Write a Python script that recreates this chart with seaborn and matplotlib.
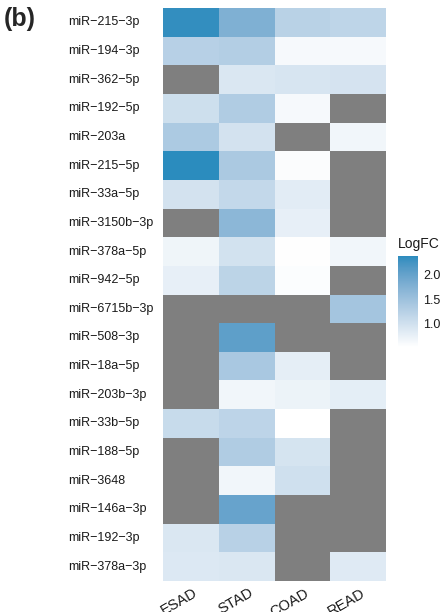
import numpy as np
import pandas as pd
import matplotlib
matplotlib.use("Agg")
import matplotlib.pyplot as plt
import matplotlib.transforms as mtransforms
from matplotlib.colors import ListedColormap
import seaborn as sns

nan = np.nan
mirnas = ["miR−215−3p", "miR−194−3p", "miR−362−5p", "miR−192−5p", "miR−203a",
          "miR−215−5p", "miR−33a−5p", "miR−3150b−3p", "miR−378a−5p", "miR−942−5p",
          "miR−6715b−3p", "miR−508−3p", "miR−18a−5p", "miR−203b−3p", "miR−33b−5p",
          "miR−188−5p", "miR−3648", "miR−146a−3p", "miR−192−3p", "miR−378a−3p"]
cancers = ["ESAD", "STAD", "COAD", "READ"]

esad = [2.33, 1.25, nan, 1.03, 1.36, 2.37, 0.97, nan, 0.69, 0.77,
        nan, nan, nan, nan, 1.09, nan, nan, nan, 0.91, 0.88]
stad = [1.78, 1.29, 0.91, 1.32, 0.97, 1.37, 1.13, 1.66, 0.98, 1.20,
        nan, 2.05, 1.38, 0.68, 1.19, 1.32, 0.68, 1.98, 1.24, 0.91]
coad = [1.23, 0.63, 0.93, 0.63, nan, 0.58, 0.83, 0.77, 0.55, 0.57,
        nan, nan, 0.79, 0.72, 0.53, 0.95, 1.01, nan, nan, nan]
read = [1.18, 0.62, 0.96, nan, 0.68, nan, nan, nan, 0.68, nan,
        1.43, nan, nan, 0.80, nan, nan, nan, nan, nan, 0.85]

df = pd.DataFrame({"ESAD": esad, "STAD": stad, "COAD": coad, "READ": read}, index=mirnas)


# ggplot-like gradient interpolated in CIELAB
def _to_lab(rgb):
    c = np.asarray(rgb, float)
    lin = np.where(c <= 0.04045, c / 12.92, ((c + 0.055) / 1.055) ** 2.4)
    M = np.array([[0.4124, 0.3576, 0.1805], [0.2126, 0.7152, 0.0722], [0.0193, 0.1192, 0.9505]])
    xyz = M @ lin / np.array([0.95047, 1.0, 1.08883])
    f = np.where(xyz > 0.008856, np.cbrt(xyz), 7.787 * xyz + 16 / 116)
    return np.array([116 * f[1] - 16, 500 * (f[0] - f[1]), 200 * (f[1] - f[2])])


def _from_lab(lab):
    L, a, b = lab
    fy = (L + 16) / 116
    fx = fy + a / 500
    fz = fy - b / 200
    f = np.array([fx, fy, fz])
    xyz = np.where(f ** 3 > 0.008856, f ** 3, (f - 16 / 116) / 7.787) * np.array([0.95047, 1.0, 1.08883])
    Minv = np.linalg.inv(np.array([[0.4124, 0.3576, 0.1805], [0.2126, 0.7152, 0.0722], [0.0193, 0.1192, 0.9505]]))
    lin = Minv @ xyz
    c = np.where(lin <= 0.0031308, 12.92 * lin, 1.055 * np.clip(lin, 0, None) ** (1 / 2.4) - 0.055)
    return np.clip(c, 0, 1)


low = _to_lab(np.array([255, 255, 255]) / 255)
high = _to_lab(np.array([43, 140, 190]) / 255)
cols = [_from_lab(low + (high - low) * t) for t in np.linspace(0, 1, 256)]
cmap = ListedColormap(cols)

sns.set_style("white")
plt.rcParams["font.family"] = ["Liberation Sans", "DejaVu Sans"]

fig = plt.figure(figsize=(4.42, 6.12), dpi=100)
ax = fig.add_axes([163 / 442, 1 - 581 / 612, (386 - 163) / 442, (581 - 8) / 612])
cax = fig.add_axes([398 / 442, 1 - 347 / 612, 20 / 442, 91 / 612])

vmin = np.nanmin(df.values)
vmax = np.nanmax(df.values)
sns.heatmap(df, cmap=cmap, vmin=vmin, vmax=vmax, ax=ax, cbar_ax=cax,
            linewidths=0, cbar_kws={"ticks": [1.0, 1.5, 2.0]})
ax.set_facecolor("#7F7F7F")
for s in ax.spines.values():
    s.set_visible(False)

ax.set_xlabel("")
ax.set_ylabel("")
ax.tick_params(axis="y", length=0, pad=68.5, labelsize=9, labelcolor="#1a1a1a")
for lbl in ax.get_yticklabels():
    lbl.set_rotation(0)
    lbl.set_ha("left")
    lbl.set_va("center")

ax.tick_params(axis="x", length=0, pad=3.5, labelsize=10.5, labelcolor="#1a1a1a")
offset = mtransforms.ScaledTranslation(2 / 100, 0, fig.dpi_scale_trans)
for lbl in ax.get_xticklabels():
    lbl.set_rotation(30)
    lbl.set_ha("right")
    lbl.set_va("top")
    lbl.set_rotation_mode("anchor")
    lbl.set_transform(lbl.get_transform() + offset)

cbar = ax.collections[0].colorbar
cbar.outline.set_visible(False)
cbar.set_ticklabels(["1.0", "1.5", "2.0"])
cax.tick_params(axis="y", direction="in", length=4, width=0.8, color="white",
                left=True, right=True, labelsize=9, labelcolor="#1a1a1a", pad=4)
cax.text(0.0, 1.06, "LogFC", transform=cax.transAxes, ha="left", va="bottom",
         fontsize=10, color="#1a1a1a")

fig.text(4 / 442, 1 - 7 / 612, "(b)", ha="left", va="top", fontsize=18, fontweight="bold")

fig.savefig("out.png", dpi=100)
